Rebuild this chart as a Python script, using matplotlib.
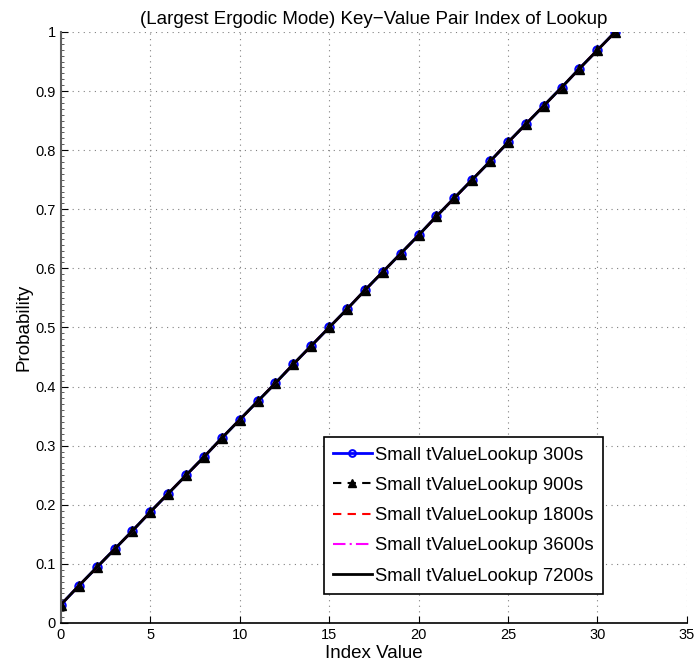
import numpy as np
import matplotlib
matplotlib.use('Agg')
import matplotlib.pyplot as plt
from matplotlib.ticker import MultipleLocator

plt.rcParams['font.family'] = ['Liberation Sans', 'DejaVu Sans']

idx = list(range(32))
prob = [0.031, 0.063, 0.094, 0.125, 0.156, 0.188, 0.219, 0.250, 0.281, 0.313,
        0.344, 0.375, 0.406, 0.438, 0.469, 0.500, 0.531, 0.563, 0.594, 0.625,
        0.656, 0.688, 0.719, 0.750, 0.781, 0.813, 0.844, 0.875, 0.906, 0.938,
        0.969, 1.000]
labels = ['Small tValueLookup 300s', 'Small tValueLookup 900s',
          'Small tValueLookup 1800s', 'Small tValueLookup 3600s',
          'Small tValueLookup 7200s']

fig = plt.figure(figsize=(6.96, 6.66), dpi=100)
ax = fig.add_axes([0.0876, 0.0646, 0.899, 0.8874])

ax.plot(idx, prob, color='blue', lw=2, marker='o', ms=6, mfc='none', mew=1.5, label=labels[0])
ax.plot(idx, prob, color='black', lw=1.5, ls=(0, (4, 3)), marker='^', ms=7, mfc='black', label=labels[1])
ax.plot(idx, prob, color='red', lw=1.5, ls=(0, (4, 3)), label=labels[2])
ax.plot(idx, prob, color='magenta', lw=1.5, ls=(0, (6, 2, 1, 2)), label=labels[3])
ax.plot(idx, prob, color='black', lw=2, label=labels[4])

ax.set_xlim(0, 35)
ax.set_ylim(0, 1)
ax.xaxis.set_major_locator(MultipleLocator(5))
ax.set_yticks(np.arange(0, 1.01, 0.1))
ax.set_yticklabels(['0', '0.1', '0.2', '0.3', '0.4', '0.5', '0.6', '0.7', '0.8', '0.9', '1'])
ax.yaxis.set_minor_locator(MultipleLocator(0.01))
ax.grid(True, which='major', color='#808080', ls=(0, (1, 4)), lw=0.8)
ax.spines['top'].set_visible(False)
ax.spines['right'].set_visible(False)
ax.spines['left'].set_linewidth(1.5)
ax.spines['left'].set_color('#606060')
ax.spines['bottom'].set_linewidth(1.2)
ax.tick_params(direction='in', length=5, labelsize=10.5)
ax.tick_params(axis='y', which='minor', direction='in', length=2, color='#404040')

ax.set_xlabel('Index Value', fontsize=13.5, labelpad=2)
ax.set_ylabel('Probability', fontsize=13.5, labelpad=2)
ax.set_title('(Largest Ergodic Mode) Key\u2212Value Pair Index of Lookup', fontsize=13.5, pad=6)

leg = ax.legend(loc='lower left', bbox_to_anchor=(0.42, 0.049), borderaxespad=0,
                fontsize=13.3, fancybox=False, edgecolor='black', framealpha=1,
                handlelength=2.1, borderpad=0.5, labelspacing=0.72, handletextpad=0.2,
                markerscale=0.8)
leg.get_frame().set_linewidth(1.2)

fig.savefig('out.png', dpi=100)
